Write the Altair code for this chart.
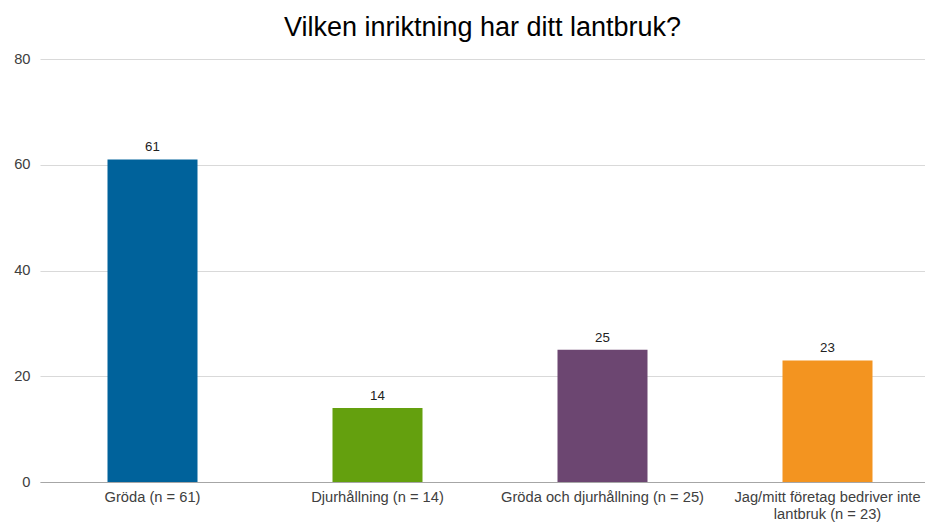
import altair as alt
import pandas as pd

categories = ["Gröda (n = 61)", "Djurhållning (n = 14)", "Gröda och djurhållning (n = 25)",
              "Jag/mitt företag bedriver inte lantbruk (n = 23)"]
values = [61, 14, 25, 23]
colors = ["#00629B", "#64A00E", "#6C4671", "#F39420"]
y_ticks = [0, 20, 40, 60, 80]

df = pd.DataFrame({"cat": categories, "val": values})

FONT = "Liberation Sans"

x = alt.X("cat:N", sort=categories, title=None,
          scale=alt.Scale(range=[0, 900], paddingInner=0.6, paddingOuter=0.3),
          axis=alt.Axis(labelAngle=0, labelFont=FONT, labelFontSize=14.7, labelColor="#404040",
                        ticks=False, domainColor="#A6A6A6", domainWidth=1, labelPadding=7,
                        labelBaseline="top", labelLineHeight=17, labelLimit=300,
                        labelExpr="datum.label == 'Jag/mitt företag bedriver inte lantbruk (n = 23)' ? ['Jag/mitt företag bedriver inte', 'lantbruk (n = 23)'] : datum.label"))
y = alt.Y("val:Q", title=None,
          scale=alt.Scale(domain=[0, 80]),
          axis=alt.Axis(values=y_ticks, labelFont=FONT, labelFontSize=14.7, labelColor="#404040",
                        ticks=False, domain=False, gridColor="#D9D9D9", labelPadding=10))

bars = alt.Chart(df).mark_bar().encode(
    x=x, y=y,
    color=alt.Color("cat:N", sort=categories, scale=alt.Scale(domain=categories, range=colors), legend=None),
)
labels = alt.Chart(df).mark_text(font=FONT, fontSize=13.3, color="#222222", baseline="alphabetic", dy=-8).encode(
    x=alt.X("cat:N", sort=categories), y="val:Q", text="val:Q"
)

chart = alt.layer(bars, labels).properties(
    width=885, height=423,
    autosize=alt.AutoSizeParams(type="none"),
    padding={"left": 32, "top": 51, "right": 0, "bottom": 40},
    title=alt.TitleParams("Vilken inriktning har ditt lantbruk?", font=FONT, fontSize=27,
                          fontWeight="normal", color="#000000", anchor="middle",
                          baseline="alphabetic", offset=-12),
).configure_view(stroke=None)

chart.save("out.html", embed_options={"renderer": "svg", "actions": False})
